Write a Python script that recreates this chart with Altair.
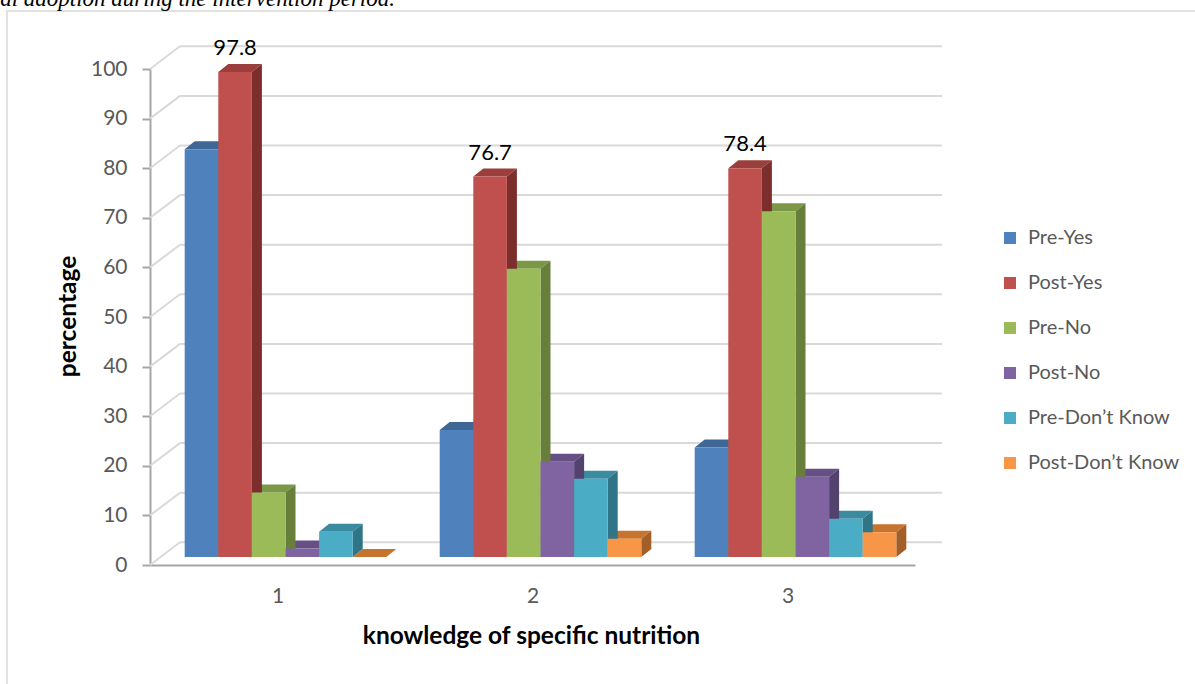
import altair as alt
import pandas as pd

# ---- data -------------------------------------------------------------
groups = [1, 2, 3]
series = ["Pre-Yes", "Post-Yes", "Pre-No", "Post-No", "Pre-Don’t Know", "Post-Don’t Know"]
pre_yes = [82.2, 25.6, 22.1]
post_yes = [97.8, 76.7, 78.4]
pre_no = [13.0, 58.1, 69.7]
post_no = [1.7, 19.2, 16.2]
pre_dont_know = [5.1, 15.8, 7.7]
post_dont_know = [0.0, 3.7, 5.0]
y_ticks = list(range(0, 101, 10))
labelled_series = "Post-Yes"
x_title = "knowledge of specific nutrition"
y_title = "percentage"

# ---- style ------------------------------------------------------------
front_colors = ["#4F81BD", "#C0504D", "#9BBB59", "#8064A2", "#4BACC6", "#F79646"]
top_colors = ["#3E6796", "#9B3F3D", "#7B9846", "#654F84", "#3A8AA0", "#C7742F"]
side_colors = ["#2E4D72", "#7B2E2C", "#677F3A", "#54426E", "#2F7487", "#A35F28"]
FONT = "Lato"
GRID = "#D9D9D9"
AXIS = "#A6A6A6"
TEXT = "#595959"

W, H = 765, 496          # plot area (front plane)
LEFT, TOP = 150, 69
PX_X = W / 3.0           # pixels per category
PX_Y = H / 100.0         # pixels per percentage point

# pseudo-3D geometry (pixel sizes turned into data units)
BAR_W = 33.6 / PX_X
BAR_SHIFT = 8 / PX_X
LIFT = 8 / PX_Y
DX = 10 / PX_X
DY = 8 / PX_Y
WALL_X0 = 0.5 + 30 / PX_X
WALL_X1 = 0.5 + 792 / PX_X
WALL_DY = 22.7 / PX_Y

values = [pre_yes, post_yes, pre_no, post_no, pre_dont_know, post_dont_know]

fronts, sides, tops = [], [], []
for j, (name, vals) in enumerate(zip(series, values)):
    for g, v in zip(groups, vals):
        bid = f"{name}-{g}"
        x0 = g + BAR_SHIFT + (j - 3) * BAR_W
        x1 = x0 + BAR_W
        top = LIFT + v
        fronts.append(dict(series=name, group=g, value=v, x0=x0, x1=x1,
                           xc=(x0 + x1) / 2, base=LIFT, top=top))
        sides.append(dict(bid=bid, fill=side_colors[j], x=x1, y=top, y2=LIFT))
        sides.append(dict(bid=bid, fill=side_colors[j], x=x1 + DX, y=top + DY, y2=LIFT + DY))
        tops.append(dict(bid=bid, fill=top_colors[j], x=x0, y=top, y2=top))
        tops.append(dict(bid=bid, fill=top_colors[j], x=x0 + DX, y=top + DY, y2=top))
        tops.append(dict(bid=bid, fill=top_colors[j], x=x1, y=top + DY, y2=top))
        tops.append(dict(bid=bid, fill=top_colors[j], x=x1 + DX, y=top + DY, y2=top + DY))

front_df = pd.DataFrame(fronts)
side_df = pd.DataFrame(sides)
top_df = pd.DataFrame(tops)
label_df = front_df[front_df["series"] == labelled_series]

grid_df = pd.DataFrame({
    "v": y_ticks,
    "wall": [t + WALL_DY for t in y_ticks],
    "fx": [0.5] * len(y_ticks),
    "wx0": [WALL_X0] * len(y_ticks),
    "wx1": [WALL_X1] * len(y_ticks),
})

xs = alt.Scale(domain=[0.5, 3.5], nice=False, zero=False)
ys = alt.Scale(domain=[0, 100], nice=False, zero=False)

x_axis = alt.Axis(values=groups, format="d", grid=False, ticks=False,
                  domainColor=AXIS, domainWidth=2,
                  labelFont=FONT, labelFontSize=21, labelColor=TEXT, labelPadding=20,
                  titleFont=FONT, titleFontSize=24.5, titleFontWeight="bold",
                  titleColor="black", titleX=381, titleY=71,
                  titleBaseline="middle", titleAlign="center")
y_axis = alt.Axis(values=y_ticks, grid=False, tickSize=8, tickColor=AXIS, tickWidth=2,
                  domainColor=AXIS, domainWidth=2,
                  labelFont=FONT, labelFontSize=21, labelColor=TEXT, labelPadding=15,
                  titleFont=FONT, titleFontSize=24.5, titleFontWeight="bold",
                  titleColor="black", titleX=-82, titleY=247,
                  titleAngle=270, titleBaseline="middle", titleAlign="center")


def X(field):
    return alt.X(field, scale=xs, axis=x_axis, title=x_title)


def Y(field):
    return alt.Y(field, scale=ys, axis=y_axis, title=y_title, stack=None)


# back wall gridlines and the slanted side-wall segments
wall = alt.Chart(grid_df).mark_rule(color=GRID, strokeWidth=2).encode(
    x=X("wx0:Q"), x2="wx1:Q", y=Y("wall:Q"),
)
slant = alt.Chart(grid_df).mark_rule(color=GRID, strokeWidth=2).encode(
    x=X("fx:Q"), x2="wx0:Q", y=Y("v:Q"), y2="wall:Q",
)

top_faces = alt.Chart(top_df).mark_area(interpolate="linear").encode(
    x=X("x:Q"), y=Y("y:Q"), y2="y2:Q",
    color=alt.Color("fill:N", scale=None),
    detail="bid:N",
)
side_faces = alt.Chart(side_df).mark_area(interpolate="linear").encode(
    x=X("x:Q"), y=Y("y:Q"), y2="y2:Q",
    color=alt.Color("fill:N", scale=None),
    detail="bid:N",
)

front_faces = alt.Chart(front_df).mark_rect().encode(
    x=X("x0:Q"), x2="x1:Q",
    y=Y("top:Q"), y2="base:Q",
    color=alt.Color("series:N",
                    scale=alt.Scale(domain=series, range=front_colors),
                    sort=series,
                    legend=alt.Legend(orient="none", legendX=850, legendY=159,
                                      title=None, symbolType="square", symbolSize=144,
                                      symbolStrokeWidth=0, labelFont=FONT,
                                      labelFontSize=20, labelColor=TEXT,
                                      labelOffset=8, rowPadding=25, padding=0)),
)

value_labels = alt.Chart(label_df).mark_text(
    font=FONT, fontSize=22, color="black", baseline="middle", dy=-24
).encode(
    x=X("xc:Q"), y=Y("top:Q"),
    text=alt.Text("value:Q", format=".1f"),
)

caption = alt.Chart(pd.DataFrame({"t": ["al adoption during the intervention period."]})).mark_text(
    font="Liberation Serif", fontStyle="italic", fontSize=23, color="black",
    align="right", baseline="alphabetic"
).encode(x=alt.value(395 - LEFT), y=alt.value(5.5 - TOP), text="t:N")

frame = alt.Chart(pd.DataFrame({"k": [0]})).mark_rect(
    fill=None, fillOpacity=0, stroke=GRID, strokeWidth=1.5
).encode(x=alt.value(7 - LEFT), x2=alt.value(1200 - LEFT),
         y=alt.value(11 - TOP), y2=alt.value(700 - TOP))

chart = alt.layer(
    frame, caption, wall, slant, top_faces, side_faces, front_faces, value_labels
).properties(
    width=W, height=H,
    background="white",
    autosize=alt.AutoSizeParams(type="none"),
    padding={"left": LEFT, "top": TOP, "right": 1195 - LEFT - W, "bottom": 684 - TOP - H},
).configure_view(strokeWidth=0, stroke="transparent")

chart.save("out.html", embed_options={"renderer": "svg", "actions": False})
